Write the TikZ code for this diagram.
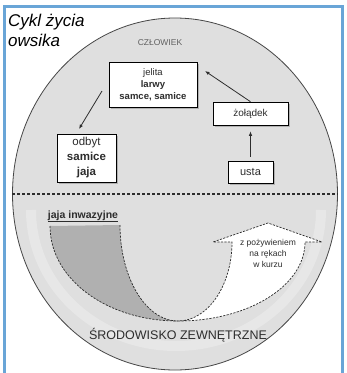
\documentclass[tikz,border=0pt]{standalone}
\usepackage{fontspec}
\setmainfont{Liberation Sans}
\usetikzlibrary{shapes.geometric,arrows.meta,calc,shadows}
\definecolor{framebl}{RGB}{105,165,215}
\definecolor{ink}{RGB}{45,45,45}
\begin{document}
\begin{tikzpicture}[x=1pt,y=-1pt,
  boxst/.style={draw=black,line width=0.6pt,fill=white,inner sep=0pt,align=center,text=ink,
     drop shadow={shadow xshift=1.6pt,shadow yshift=-1.6pt,fill=gray!70,opacity=0.8}},
  conn/.style={draw=ink,line width=0.8pt,-{Latex[length=4.5pt,width=3.5pt]}},
  dsh/.style={draw=ink,line width=0.7pt,dash pattern=on 2.2pt off 1.3pt}]
\useasboundingbox (0,0) rectangle (347,373);
\fill[white] (0,0) rectangle (347,373);

% big ellipse
\node[ellipse, minimum width=325pt, minimum height=352pt, inner sep=0pt,
      fill=gray!25, draw=gray!55!black, line width=0.8pt] (world) at (175,194) {};

% lighter band in the lower half
\draw[white, opacity=0.25, line width=10pt]
  (31,210) .. controls (31,285) and (95.9,346) .. (176,346)
           .. controls (256.1,346) and (321,285) .. (321,210);

% dashed separator
\draw[ink, line width=1.1pt, dash pattern=on 3pt off 2pt] (world.west) -- (world.east);

% crescent
\coordinate (P) at (178,321);
\fill[gray!62] (50,226) .. controls (50,279) and (107,321) .. (P)
               .. controls (146,321) and (120,278) .. (120,225) -- cycle;
\draw[dsh] (120,225) .. controls (120,278) and (146,321) .. (P);
\draw[dsh] (50,226) .. controls (50,279) and (107,321) .. (P);
\filldraw[fill=white, dsh] (P) .. controls (248,321) and (305,286) .. (305,242)
   -- (322,242) -- (268,223) -- (213,242) -- (232,242)
   .. controls (232,285.6) and (207.8,321) .. (P) -- cycle;

\node[anchor=base, inner sep=0pt, text=ink, font=\fontsize{10.5}{12}\selectfont\bfseries] (lbl) at (83,218) {\underline{jaja inwazyjne}};
\node[align=center, inner sep=0pt, text=ink, font=\fontsize{8.5}{11}\selectfont] (food) at (268,253) {z pożywieniem\\na rękach\\w kurzu};

% labels
\node[inner sep=0pt, font=\fontsize{8.5}{9}\selectfont, text=gray!75!black] (czl) at (160,43) {CZŁOWIEK};
\node[inner sep=0pt, font=\fontsize{12.5}{14}\selectfont, text=ink] (srod) at (178,335) {ŚRODOWISKO ZEWNĘTRZNE};

% boxes
\node[boxst, minimum width=88pt, minimum height=45pt, font=\fontsize{9.5}{12}\selectfont] (jel) at (153,84.5) {jelita\\\textbf{larwy}\\\textbf{samce, samice}};
\node[boxst, minimum width=59pt, minimum height=48pt, font=\fontsize{11.5}{15}\selectfont] (odb) at (86.5,158) {odbyt\\\textbf{samice}\\\textbf{jaja}};
\node[boxst, minimum width=75pt, minimum height=23pt, font=\fontsize{10}{12}\selectfont] (zol) at (250.5,113.5) {żołądek};
\node[boxst, minimum width=45pt, minimum height=22pt, font=\fontsize{11}{13}\selectfont] (ust) at (250.5,172) {usta};

% connectors
\coordinate (a1e) at (205,71);
\coordinate (a3s) at (102,91);
\coordinate (a3e) at (79,129);
\draw[conn] (zol.north) -- (a1e);
\draw[conn, shorten >=6pt, shorten <=4pt] (ust.north) -- (zol.south);
\draw[conn] (a3s) -- (a3e);

% title
\node[anchor=north west, align=left, inner sep=0pt, font=\fontsize{17}{20}\selectfont\itshape] (title) at (8,14) {Cykl życia\\owsika};

% frame
\draw[framebl, line width=3.5pt] (4.5,373) -- (4.5,6.5) -- (342.5,6.5) -- (342.5,373);
\end{tikzpicture}
\end{document}
